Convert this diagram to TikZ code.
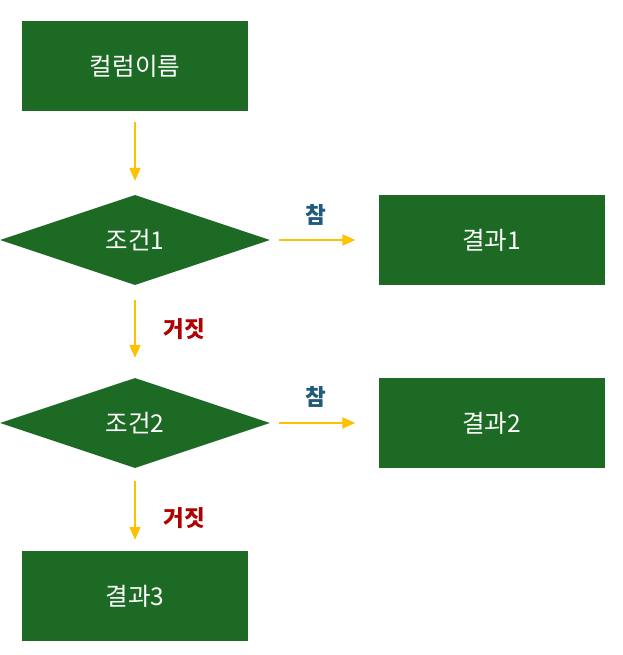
\documentclass[tikz,border=0pt]{standalone}
\usepackage{fontspec}
\setmainfont{Noto Sans CJK KR}
\usetikzlibrary{shapes.geometric,arrows.meta}
\definecolor{boxgreen}{HTML}{1C6A24}
\definecolor{arrowyellow}{HTML}{FFC000}
\definecolor{truecol}{HTML}{1F5A7A}
\definecolor{falsecol}{HTML}{B00000}
\begin{document}
\begin{tikzpicture}[x=1pt,y=-1pt,line join=round,>={Triangle[width=11pt,length=13pt]},
  font=\fontsize{24.5}{28}\selectfont]
\tikzset{box/.style={rectangle,fill=boxgreen,text=white,minimum width=226pt,minimum height=90pt,inner sep=0pt},
  cond/.style={diamond,fill=boxgreen,text=white,aspect=3,minimum width=270pt,minimum height=90pt,inner sep=0pt},
  flow/.style={->,arrowyellow,line width=1.8pt},
  yes/.style={text=truecol,font=\fontsize{22.5}{26}\selectfont\bfseries},
  no/.style={text=falsecol,font=\fontsize{22.5}{26}\selectfont\bfseries}}
\useasboundingbox (0,0) rectangle (622,655);
% boxes
\node[box] (col) at (135,66) {컬럼이름};
\node[cond] (c1) at (135,240) {조건1};
\node[box] (r1) at (491.5,240) {결과1};
\node[cond] (c2) at (135,423) {조건2};
\node[box] (r2) at (491.5,423) {결과2};
\node[box] (r3) at (135,596) {결과3};
% arrows
\draw[flow,shorten <=11pt,shorten >=14pt] (col.south) -- (c1.north);
\draw[flow,shorten <=9pt,shorten >=23pt] (c1.east) -- (r1.west);
\draw[flow,shorten <=15pt,shorten >=20pt] (c1.south) -- (c2.north);
\draw[flow,shorten <=9pt,shorten >=23pt] (c2.east) -- (r2.west);
\draw[flow,shorten <=13pt,shorten >=11pt] (c2.south) -- (r3.north);
% labels
\node[yes] (t1) at (316,215) {참};
\node[no] (f1) at (184,329) {거짓};
\node[yes] (t2) at (316,397) {참};
\node[no] (f2) at (184,518) {거짓};
\end{tikzpicture}
\end{document}
